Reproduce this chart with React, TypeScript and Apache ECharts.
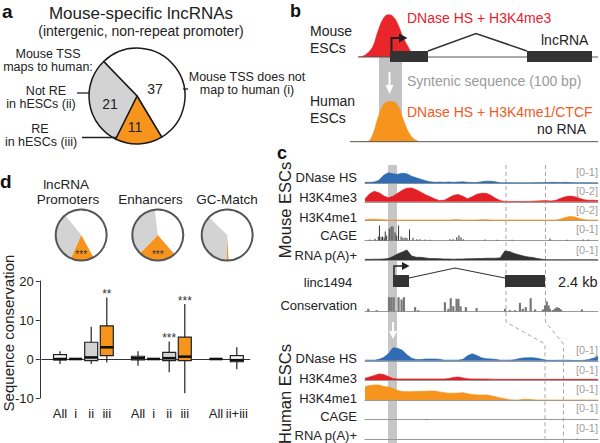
import React, { useEffect, useRef } from "react";
import * as echarts from "echarts";

const FONT = '"Liberation Sans", Arial, Helvetica, sans-serif';
const BLUE = "#2f6cb3";
const RED = "#e31f26";
const ORANGE = "#f7941d";
const GRAY = "#d3d3d3";
const DARK = "#333333";

// ---------- Panel a ----------
const pieANames = ["Mouse TSS does not map to human (i)", "RE in hESCs (iii)", "Not RE in hESCs (ii)"];
const pieAValues = [37, 11, 21];

// ---------- Panel d : pies (% not mapped / RE / not RE) ----------
const pieDTitles = ["Promoters", "Enhancers", "GC-Match"];
const pieDPromoters = [52.8, 14.7, 32.5];
const pieDEnhancers = [40.6, 23.6, 35.8];
const pieDGCMatch = [61.8, 1.1, 37.1];
const pieDStars = ["***", "***", ""];

// ---------- Panel d : boxplot ----------
const boxLabels = ["All", "i", "ii", "iii", "All", "i", "ii", "iii", "All", "ii+iii"];
const boxClasses = ["all", "i", "ii", "iii", "all", "i", "ii", "iii", "all", "ii+iii"];
const boxLow = [-1.3, 0, -1.3, -0.9, -1.7, 0, -3.4, -8.8, 0, -2.6];
const boxQ1 = [-0.25, 0, -0.4, 0.85, -0.25, 0, -0.4, -0.4, 0, -0.7];
const boxMedian = [0, 0, 0.4, 3.0, 0.2, 0, 0.2, 0.6, 0, -0.3];
const boxQ3 = [1.1, 0, 4.3, 8.5, 0.7, 0, 1.7, 5.6, 0, 0.85];
const boxHigh = [2.0, 0, 8.3, 15.8, 2.0, 0, 4.5, 14.1, 0, 3.0];
const boxStars = ["", "", "", "**", "", "", "***", "***", "", ""];

// ---------- Panel b : schematic peaks ----------
const bPeakPos = [0, 1, 2, 3, 4, 5, 6, 7, 8, 9, 10, 11, 12];
const bMouseSignal = [0, 0.02, 0.1, 0.25, 0.6, 0.88, 0.98, 0.94, 0.75, 0.46, 0.24, 0.06, 0.01];
const bHumanSignal = [0, 0, 0.01, 0.18, 0.57, 0.86, 0.95, 0.95, 0.85, 0.54, 0.25, 0.08, 0.01];

// ---------- Panel c : genome browser tracks ----------
const bins = [0, 2, 4, 6, 8, 10, 12, 14, 16, 18, 20, 22, 24, 26, 28, 30, 32, 34, 36, 38, 40, 42, 44, 46, 48, 50,
  52, 54, 56, 58, 60, 62, 64, 66, 68, 70, 72, 74, 76, 78, 80, 82, 84, 86, 88, 90, 92, 94, 96, 98, 100];

const mouseDnase = [0.06, 0.06, 0.08, 0.19, 0.5, 0.66, 0.59, 0.56, 0.63, 0.59, 0.44, 0.34, 0.25, 0.16, 0.09, 0.06, 0.08, 0.06, 0.08, 0.06,
  0.08, 0.09, 0.06, 0.05, 0.05, 0.09, 0.13, 0.13, 0.09, 0.04, 0.03, 0.04, 0.03, 0.04, 0.03, 0.03, 0.03, 0.05, 0.04, 0.05,
  0.06, 0.06, 0.05, 0.06, 0.05, 0.04, 0.04, 0.04, 0.04, 0.03, 0.03];
const mouseK4me3 = [0.38, 1, 1.31, 1.13, 0.75, 0.5, 0.69, 1.06, 1.44, 1.69, 1.73, 1.5, 1.19, 0.88, 0.63, 0.34, 0.15, 0.19, 0.5, 0.81,
  0.91, 0.69, 0.38, 0.63, 0.94, 1.06, 1.06, 0.81, 0.44, 0.15, 0.05, 0.04, 0.04, 0.04, 0.04, 0.05, 0.06, 0.1, 0.13, 0.13,
  0.1, 0.19, 0.44, 0.63, 0.71, 0.63, 0.44, 0.25, 0.19, 0.19, 0.15];
const mouseK4me1 = [0.13, 0.15, 0.15, 0.13, 0.09, 0.06, 0.06, 0.06, 0.06, 0.06, 0.06, 0.06, 0.06, 0.06, 0.06, 0.06, 0.06, 0.06, 0.06,
  0.1, 0.1, 0.06, 0.06, 0.06, 0.06, 0.1, 0.1, 0.06, 0.06, 0.06, 0.06, 0.06, 0.06, 0.06, 0.06, 0.06, 0.06, 0.06, 0.06, 0.06, 0.06, 0.06,
  0.19, 0.38, 0.5, 0.44, 0.25, 0.1, 0.06, 0.06, 0.06];
const mouseCage = [[2.1, 0.06], [4.3, 0.11], [5.7, 0.25], [6.2, 0.94], [6.9, 0.22], [7.5, 0.25], [8.2, 0.19], [8.7, 0.56], [9.3, 0.31],
  [10.4, 0.75], [11.2, 0.88], [12, 0.88], [12.9, 0.5], [13.6, 0.31], [14.4, 0.94], [15.5, 0.25], [16.3, 0.17], [17.2, 0.19], [18, 0.16],
  [19.1, 0.69], [20.6, 0.17], [22.3, 0.08], [23.6, 0.08], [25.8, 0.06], [27.9, 0.04], [36.5, 0.08], [37.8, 0.08], [39.4, 0.21],
  [40.3, 0.33], [41.2, 0.21], [42.2, 0.08], [51.5, 0.06], [56.7, 0.04], [63.1, 0.04], [79.4, 0.13], [86.7, 0.04], [93.6, 0.06], [95.7, 0.06]];
const mouseRna = [0.04, 0.04, 0.05, 0.05, 0.06, 0.09, 0.22, 0.38, 0.5, 0.63, 0.25, 0.17, 0.17, 0.13, 0.09, 0.09, 0.08, 0.06, 0.06, 0.05,
  0.06, 0.06, 0.08, 0.08, 0.09, 0.09, 0.11, 0.11, 0.11, 0.13, 0.56, 0.53, 0.41, 0.33, 0.25, 0.19, 0.16, 0.09, 0.05, 0.02,
  0.02, 0.02, 0.02, 0.02, 0.02, 0.02, 0.02, 0.02, 0.02, 0.02, 0.02];
const conservation = [[1.4, 0.17], [5, 0.08], [10.3, 0.89], [11.3, 0.89], [12.3, 0.89], [14.4, 0.89], [15.7, 0.75], [16.7, 0.89],
  [21.5, 0.27], [22.9, 0.08], [34.3, 0.58], [35.8, 0.17], [36.8, 0.83], [37.9, 0.33], [39.3, 0.79], [40.1, 0.79], [41, 0.33],
  [43.3, 0.27], [47.9, 0.21], [60.1, 0.17], [62.2, 0.08], [64.4, 0.08], [66.5, 0.54], [67.7, 0.17], [69, 0.27], [71.1, 0.83],
  [73, 0.13], [76.4, 0.13], [77.3, 0.38], [78, 0.63], [78.8, 0.38], [79.4, 0.16], [80.7, 0.09], [81.5, 0.19], [82.4, 0.27],
  [83.3, 0.22], [84.1, 0.13], [93.1, 0.13]];
const humanDnase = [0.04, 0.04, 0.04, 0.09, 0.21, 0.44, 0.81, 0.78, 0.66, 0.38, 0.16, 0.08, 0.08, 0.11, 0.11, 0.11, 0.09, 0.04, 0.04, 0.04,
  0.04, 0.09, 0.31, 0.44, 0.33, 0.19, 0.13, 0.11, 0.09, 0.04, 0.04, 0.04, 0.06, 0.13, 0.18, 0.19, 0.19, 0.16, 0.09, 0.03,
  0.03, 0.03, 0.04, 0.04, 0.03, 0.02, 0.02, 0.03, 0.08, 0.16, 0.29];
const humanK4me3 = [0.11, 0.19, 0.28, 0.38, 0.34, 0.22, 0.09, 0.06, 0.06, 0.06, 0.06, 0.06, 0.06, 0.06, 0.06, 0.06, 0.06, 0.06,
  0.09, 0.16, 0.19, 0.13, 0.08, 0.06, 0.06, 0.06, 0.06, 0.05, 0.04, 0.04, 0.04, 0.04, 0.04, 0.04, 0.04, 0.04, 0.04, 0.04, 0.04,
  0.04, 0.04, 0.04, 0.04, 0.04, 0.04, 0.04, 0.04, 0.04, 0.04, 0.04, 0.04];
const humanK4me1 = [0.83, 0.91, 0.94, 0.94, 0.84, 0.81, 0.72, 0.59, 0.53, 0.52, 0.52, 0.53, 0.54, 0.54, 0.56, 0.56, 0.5, 0.46, 0.42, 0.42,
  0.43, 0.46, 0.39, 0.34, 0.31, 0.31, 0.31, 0.27, 0.2, 0.13, 0.08, 0.02, 0, 0, 0.04, 0.04, 0.02, 0, 0, 0, 0, 0, 0, 0, 0, 0, 0, 0, 0, 0, 0];
const humanCage = [[26.5, 0.03]];
const humanRna = [[91, 0.02]];

const mouseTracks = [
  { label: "DNase HS", range: "[0-1]", max: 1, color: BLUE, values: mouseDnase },
  { label: "H3K4me3", range: "[0-2]", max: 2, color: RED, values: mouseK4me3 },
  { label: "H3K4me1", range: "[0-2]", max: 2, color: ORANGE, values: mouseK4me1 },
  { label: "CAGE", range: "[0-1]", max: 1, color: DARK, spikes: mouseCage },
  { label: "RNA p(A)+", range: "[0-1]", max: 1, color: DARK, values: mouseRna },
];
const humanTracks = [
  { label: "DNase HS", range: "[0-1]", max: 1, color: BLUE, values: humanDnase },
  { label: "H3K4me3", range: "[0-1]", max: 1, color: RED, values: humanK4me3 },
  { label: "H3K4me1", range: "[0-1]", max: 1, color: ORANGE, values: humanK4me1 },
  { label: "CAGE", range: "[0-1]", max: 1, color: DARK, spikes: humanCage },
  { label: "RNA p(A)+", range: "[0-1]", max: 1, color: DARK, spikes: humanRna },
];

function buildOption() {
  const grid: any[] = [];
  const xAxis: any[] = [];
  const yAxis: any[] = [];
  const series: any[] = [];
  const graphic: any[] = [];

  const T = (x: number, y: number, text: string, size: number, o: any = {}) => ({
    type: "text", x, y, z: 20, silent: true, rotation: o.rotation || 0,
    style: {
      text, font: `${o.weight || "normal"} ${size}px ${FONT}`, fill: o.color || "#222",
      textAlign: o.align || "left", textVerticalAlign: "middle",
    },
  });
  const L = (pts: number[][], o: any = {}) => ({
    type: "polyline", z: o.z ?? 10, silent: true, shape: { points: pts },
    style: { stroke: o.color || "#222", lineWidth: o.width || 1.5, fill: "none", lineDash: o.dash || null },
  });
  const P = (pts: number[][], fill: string, z = 10) => ({ type: "polygon", z, silent: true, shape: { points: pts }, style: { fill } });
  const R = (x: number, y: number, w: number, h: number, fill: string, z = 10) => ({ type: "rect", z, silent: true, shape: { x, y, width: w, height: h }, style: { fill } });

  // ---------- boxplot grid (index 0) ----------
  const slotCount = 40;
  const boxSlots = [3, 6, 9, 12, 18, 21, 24, 27, 33, 37];
  const slotNames = Array.from({ length: slotCount }, (_, i) => "s" + i);
  const slotLabel: Record<number, string> = {};
  boxSlots.forEach((s, i) => (slotLabel[s] = boxLabels[i]));
  grid.push({ left: 41.8, top: 281, width: 208, height: 117 });
  xAxis.push({
    type: "category", gridIndex: 0, data: slotNames, offset: 4, boundaryGap: true,
    axisLine: { lineStyle: { color: "#333", width: 1 } }, axisTick: { show: false },
    axisLabel: { interval: 0, fontSize: 13, color: "#222", fontFamily: FONT, margin: 5, formatter: (_v: any, i: number) => slotLabel[i] || "" },
    splitLine: { show: false },
  });
  yAxis.push({
    type: "value", gridIndex: 0, min: -10, max: 20, interval: 10, offset: 2,
    axisLine: { show: true, lineStyle: { color: "#333", width: 1 } },
    axisTick: { show: true, length: 4, lineStyle: { color: "#333" } },
    axisLabel: { fontSize: 13, color: "#222", fontFamily: FONT, margin: 6 },
    splitLine: { show: false },
  });
  const boxFill: Record<string, string> = { all: "#ffffff", i: "#ffffff", ii: GRAY, iii: ORANGE, "ii+iii": "#ffffff" };
  series.push({
    type: "custom", xAxisIndex: 0, yAxisIndex: 0, silent: true, z: 5,
    encode: { x: 0, y: [1, 2, 3, 4, 5] },
    data: boxLabels.map((_, i) => [boxSlots[i], boxLow[i], boxQ1[i], boxMedian[i], boxQ3[i], boxHigh[i], i]),
    renderItem: (_p: any, api: any) => {
      const x = api.value(0);
      const idx = api.value(6);
      const lo = api.coord([x, api.value(1)]);
      const q1 = api.coord([x, api.value(2)]);
      const md = api.coord([x, api.value(3)]);
      const q3 = api.coord([x, api.value(4)]);
      const hi = api.coord([x, api.value(5)]);
      const cx = lo[0], hw = 6.5;
      const children: any[] = [
        { type: "line", shape: { x1: cx, y1: lo[1], x2: cx, y2: hi[1] }, style: { stroke: "#222", lineWidth: 1.2 } },
        { type: "rect", shape: { x: cx - hw, y: q3[1], width: 2 * hw, height: q1[1] - q3[1] }, style: { fill: boxFill[boxClasses[idx]], stroke: "#222", lineWidth: 1.2 } },
        { type: "line", shape: { x1: cx - hw, y1: md[1], x2: cx + hw, y2: md[1] }, style: { stroke: "#111", lineWidth: 2.6 } },
      ];
      if (boxStars[idx]) {
        children.push({ type: "text", x: cx, y: hi[1] - 3, style: { text: boxStars[idx], font: `12px ${FONT}`, fill: "#333", textAlign: "center", textVerticalAlign: "middle" } });
      }
      return { type: "group", children };
    },
  });

  // ---------- generic grid helper ----------
  const addGrid = (left: number, top: number, width: number, height: number, xMax: number, yMax: number, base: boolean) => {
    const gi = grid.length;
    grid.push({ left, top, width, height });
    xAxis.push({
      type: "value", gridIndex: gi, min: 0, max: xMax, show: true,
      axisLine: { show: base, onZero: false, lineStyle: { color: "#9a9a9a", width: 1 } },
      axisTick: { show: false }, axisLabel: { show: false }, splitLine: { show: false },
    });
    yAxis.push({ type: "value", gridIndex: gi, min: 0, max: yMax, show: false, splitLine: { show: false } });
    return gi;
  };
  const area = (gi: number, xs: number[], vals: number[], color: string, smooth: any = false) =>
    series.push({
      type: "line", xAxisIndex: gi, yAxisIndex: gi, silent: true, z: 3, symbol: "none", smooth,
      data: xs.map((b, i) => [b, vals[i]]), lineStyle: { color, width: 0.7 }, areaStyle: { color, opacity: 1 },
    });
  const spikes = (gi: number, pairs: number[][], color: string, w: number) =>
    series.push({
      type: "custom", xAxisIndex: gi, yAxisIndex: gi, silent: true, z: 3, encode: { x: 0, y: 1 },
      data: pairs,
      renderItem: (_p: any, api: any) => {
        const a = api.coord([api.value(0), 0]);
        const b = api.coord([api.value(0), api.value(1)]);
        return { type: "rect", shape: { x: a[0] - w / 2, y: b[1], width: w, height: Math.max(a[1] - b[1], 0.6) }, style: { fill: color } };
      },
    });

  // ---------- Panel a ----------
  series.push({
    type: "pie", center: [137, 96], radius: 48, startAngle: 134, clockwise: true, silent: true, z: 2,
    label: { show: false }, labelLine: { show: false }, emphasis: { disabled: true },
    itemStyle: { borderColor: "#1a1a1a", borderWidth: 1.5 },
    data: pieAValues.map((v, i) => ({ name: pieANames[i], value: v, itemStyle: { color: ["#ffffff", ORANGE, GRAY][i] } })),
  });
  graphic.push(T(2, 11, "a", 19, { weight: "bold", color: "#111" }));
  graphic.push(T(141, 13, "Mouse-specific lncRNAs", 17, { align: "center" }));
  graphic.push(T(141, 31, "(intergenic, non-repeat promoter)", 14, { align: "center" }));
  graphic.push(T(48, 53.5, "Mouse TSS", 12.5, { align: "center" }));
  graphic.push(T(48, 66.5, "maps to human:", 12.5, { align: "center" }));
  graphic.push(T(46, 90.5, "Not RE", 12.5, { align: "center" }));
  graphic.push(T(41, 103.5, "in hESCs (ii)", 12.5, { align: "center" }));
  graphic.push(T(40, 128.5, "RE", 12.5, { align: "center" }));
  graphic.push(T(41, 141.5, "in hESCs (iii)", 12.5, { align: "center" }));
  graphic.push(T(247, 76.5, "Mouse TSS does not", 12.5, { align: "center" }));
  graphic.push(T(247, 89.5, "map to human (i)", 12.5, { align: "center" }));
  graphic.push(T(155, 89, String(pieAValues[0]), 14, { align: "center" }));
  graphic.push(T(110, 104, String(pieAValues[2]), 14, { align: "center" }));
  graphic.push(T(135, 127, String(pieAValues[1]), 14, { align: "center" }));
  graphic.push(L([[77, 93], [90, 93]], { width: 1.3 }));
  graphic.push(L([[82, 137.5], [117, 137.5]], { width: 1.3 }));
  graphic.push(L([[183, 89], [188, 89]], { width: 1.3 }));

  // ---------- Panel b ----------
  graphic.push(T(290, 11, "b", 18, { weight: "bold", color: "#111" }));
  graphic.push(T(310, 31, "Mouse", 14));
  graphic.push(T(310, 48, "ESCs", 14));
  graphic.push(T(310, 101, "Human", 14));
  graphic.push(T(310, 118, "ESCs", 14));
  graphic.push(T(407, 18, "DNase HS + H3K4me3", 14, { color: "#e8202a" }));
  graphic.push(T(541, 40, "lncRNA", 14));
  graphic.push(T(407, 81, "Syntenic sequence (100 bp)", 14, { color: "#9a9a9a" }));
  graphic.push(T(407, 112, "DNase HS + H3K4me1/CTCF", 14, { color: "#f15a24" }));
  graphic.push(T(537, 129, "no RNA", 14));
  graphic.push(R(379, 57, 23, 85, "#c2c2c2", 0));
  const gbm = addGrid(358, 14, 60, 43, 12, 1, false);
  area(gbm, bPeakPos, bMouseSignal, "#e8262b", 0.4);
  const gbh = addGrid(358, 99.7, 60, 42, 12, 1, false);
  area(gbh, bPeakPos, bHumanSignal, ORANGE, 0.4);
  graphic.push(L([[358, 57], [598, 57]], { color: "#555", width: 1, z: 4 }));
  graphic.push(L([[350, 141.7], [598, 141.7]], { color: "#555", width: 1, z: 4 }));
  graphic.push(R(390, 51, 38, 11, DARK));
  graphic.push(R(527, 51, 65, 11, DARK));
  graphic.push(L([[428, 51], [476, 33.5], [527, 51]], { color: DARK, width: 1.5 }));
  graphic.push(L([[391.5, 51], [391.5, 38], [401, 38]], { color: "#222", width: 2 }));
  graphic.push(P([[399, 33.5], [407.5, 38], [399, 42.5]], "#222"));
  graphic.push(L([[389.5, 72], [389.5, 87]], { color: "#fff", width: 2 }));
  graphic.push(P([[385.5, 85], [393.5, 85], [389.5, 94]], "#fff"));

  // ---------- Panel c ----------
  graphic.push(T(277, 153, "c", 18, { weight: "bold", color: "#111" }));
  graphic.push(R(388, 165, 9, 278, "#c6c6c6", 0));
  graphic.push(L([[506, 165], [506, 322], [545, 344], [545, 443]], { color: "#a8a8a8", width: 1, dash: [4, 3], z: 1 }));
  graphic.push(L([[545.5, 165], [545.5, 322], [563.5, 344], [563.5, 443]], { color: "#a8a8a8", width: 1, dash: [4, 3], z: 1 }));
  graphic.push(T(285, 210, "Mouse ESCs", 16.5, { align: "center", rotation: Math.PI / 2 }));
  graphic.push(T(285, 394, "Human ESCs", 16.5, { align: "center", rotation: Math.PI / 2 }));

  const mouseBase = [183.3, 201.8, 220.5, 240.5, 260];
  const mouseLabelY = [177, 197, 217, 235, 255];
  const mouseRangeY = [172, 191, 210, 229, 250];
  mouseTracks.forEach((t: any, k) => {
    const gi = addGrid(365, mouseBase[k] - 16, 233, 16, 100, t.max, true);
    if (t.values) area(gi, bins, t.values, t.color);
    else spikes(gi, t.spikes, t.color, 1);
    graphic.push(T(357, mouseLabelY[k], t.label, 13, { align: "right" }));
    graphic.push(T(598, mouseRangeY[k], t.range, 11, { align: "right", color: "#a0a0a0" }));
  });

  // gene model
  graphic.push(T(328, 282, "linc1494", 13, { align: "center" }));
  graphic.push(T(558, 282, "2.4 kb", 14.5));
  graphic.push(R(393, 275, 16, 12, DARK));
  graphic.push(R(505, 275, 40, 12, DARK));
  graphic.push(L([[409, 278], [455, 268], [505, 278]], { color: DARK, width: 1.2 }));
  graphic.push(L([[394, 275], [394, 266], [403, 266]], { color: "#222", width: 1.5 }));
  graphic.push(P([[402, 262], [409.5, 266], [402, 270]], "#222"));

  // conservation
  const gc = addGrid(365, 311.5 - 16, 233, 16, 100, 1, true);
  spikes(gc, conservation, "#777777", 2.2);
  graphic.push(T(357, 305, "Conservation", 13, { align: "right" }));
  graphic.push(L([[393, 322], [393, 333]], { color: "#fff", width: 2 }));
  graphic.push(P([[389, 331], [397, 331], [393, 339]], "#fff"));

  const humanBase = [360.8, 380, 400, 419.5, 439];
  const humanLabelY = [358, 378, 398, 416, 435];
  const humanRangeY = [350, 370, 389, 408, 428];
  humanTracks.forEach((t: any, k) => {
    const gi = addGrid(365, humanBase[k] - 16, 233, 16, 100, t.max, true);
    if (t.values) area(gi, bins, t.values, t.color);
    else spikes(gi, t.spikes, t.color, 1);
    graphic.push(T(357, humanLabelY[k], t.label, 13, { align: "right" }));
    graphic.push(T(598, humanRangeY[k], t.range, 11, { align: "right", color: "#a0a0a0" }));
  });

  // ---------- Panel d ----------
  graphic.push(T(0, 181, "d", 19, { weight: "bold", color: "#111" }));
  graphic.push(T(66, 184, "lncRNA", 13.5, { align: "center" }));
  const pieDCenters = [[81.2, 235], [157.8, 235], [227.2, 235]];
  const pieDTitleX = [68, 150.5, 227];
  const pieDStart = [129, 97, 135.5];
  [pieDPromoters, pieDEnhancers, pieDGCMatch].forEach((vals, k) => {
    series.push({
      type: "pie", center: pieDCenters[k], radius: 25.5, startAngle: pieDStart[k], clockwise: true, silent: true, z: 2,
      label: { show: false }, labelLine: { show: false }, emphasis: { disabled: true }, itemStyle: { borderWidth: 0 },
      data: vals.map((v, i) => ({ name: ["not mapped", "RE", "not RE"][i], value: v, itemStyle: { color: ["#ffffff", ORANGE, GRAY][i] } })),
    });
    graphic.push({ type: "circle", z: 30, silent: true, shape: { cx: pieDCenters[k][0], cy: pieDCenters[k][1], r: 25.5 }, style: { fill: "none", stroke: "#555", lineWidth: 2 } });
    graphic.push(T(pieDTitleX[k], 199.5, pieDTitles[k], 13.5, { align: "center" }));
    if (pieDStars[k]) graphic.push(T(pieDCenters[k][0], 254, pieDStars[k], 10, { align: "center", color: "#333" }));
  });
  graphic.push(T(8, 333, "Sequence conservation", 15, { align: "center", rotation: Math.PI / 2 }));

  return {
    animation: false,
    backgroundColor: "#ffffff",
    textStyle: { fontFamily: FONT },
    grid, xAxis, yAxis, series, graphic,
  };
}

export default function App() {
  const ref = useRef<HTMLDivElement>(null);
  useEffect(() => {
    const chart = echarts.init(ref.current!, null, { renderer: "svg", width: 600, height: 443 });
    chart.setOption(buildOption() as any);
    return () => chart.dispose();
  }, []);
  return <div ref={ref} style={{ width: 600, height: 443, position: "absolute", left: 0, top: 0 }} />;
}
